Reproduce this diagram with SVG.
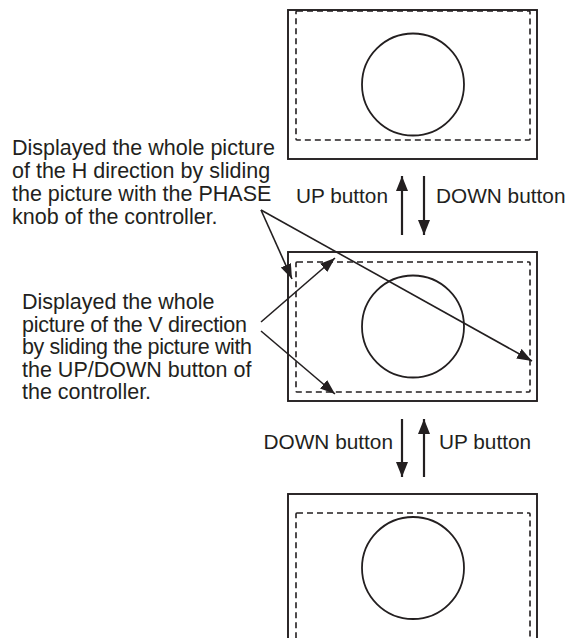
<svg xmlns="http://www.w3.org/2000/svg" width="568" height="638" viewBox="0 0 568 638">
<style>
.frame{fill:none;stroke:#231f20;stroke-width:1.9}
.dash{fill:none;stroke:#231f20;stroke-width:1.6;stroke-dasharray:6 4}
.circ{fill:none;stroke:#231f20;stroke-width:1.8}
.conn{fill:none;stroke:#231f20;stroke-width:1.6}
.varr{fill:none;stroke:#231f20;stroke-width:2.2}
text{font-family:"Liberation Sans",Arial,sans-serif;font-size:21.5px;fill:#231f20}
.btn{font-size:20.8px}
</style>
<defs>
<marker id="ah" markerUnits="userSpaceOnUse" markerWidth="16" markerHeight="12" refX="15" refY="5.5" orient="auto">
<path d="M0,0 L15,5.5 L0,11 z" fill="#231f20"/>
</marker>
<marker id="vh" markerUnits="userSpaceOnUse" markerWidth="16" markerHeight="13" refX="15" refY="6" orient="auto">
<path d="M0,0 L15,6 L0,12 z" fill="#231f20"/>
</marker>
</defs>
<rect width="568" height="638" fill="#fff"/>
<g id="screen-top">
<rect class="frame" x="288" y="10" width="249" height="149"/>
<rect class="dash" x="296" y="11" width="234" height="129" rx="1"/>
<circle class="circ" cx="413" cy="84.5" r="51"/>
</g>
<g id="screen-middle">
<rect class="frame" x="288" y="252" width="249" height="149"/>
<rect class="dash" x="296" y="262" width="234" height="130" rx="1"/>
<circle class="circ" cx="413" cy="326.5" r="51"/>
</g>
<g id="screen-bottom">
<rect class="frame" x="288" y="494" width="249" height="160"/>
<rect class="dash" x="296" y="513" width="234" height="140" rx="1"/>
<circle class="circ" cx="413" cy="568" r="51"/>
</g>
<g id="label-h">
<text x="12" y="155">Displayed the whole picture</text>
<text x="12" y="178">of the H direction by sliding</text>
<text x="12" y="201">the picture with the PHASE</text>
<text x="12" y="223.5">knob of the controller.</text>
</g>
<g id="label-v">
<text x="22" y="309">Displayed the whole</text>
<text x="22" y="331.5" textLength="225" lengthAdjust="spacing">picture of the V direction</text>
<text x="22" y="354" textLength="230" lengthAdjust="spacing">by sliding the picture with</text>
<text x="22" y="376.5">the UP/DOWN button of</text>
<text x="22" y="399">the controller.</text>
</g>
<g id="button-labels">
<text class="btn" x="388" y="203" text-anchor="end">UP button</text>
<text class="btn" x="436" y="203">DOWN button</text>
<text class="btn" x="393" y="449" text-anchor="end">DOWN button</text>
<text class="btn" x="439" y="449">UP button</text>
</g>
<g id="connectors">
<line class="conn" x1="261" y1="210" x2="292" y2="279" marker-end="url(#ah)"/>
<line class="conn" x1="261" y1="210" x2="532" y2="361" marker-end="url(#ah)"/>
<line class="conn" x1="261" y1="322" x2="335" y2="258" marker-end="url(#ah)"/>
<line class="conn" x1="261" y1="331" x2="335" y2="394" marker-end="url(#ah)"/>
<line class="varr" x1="402" y1="235" x2="402" y2="176" marker-end="url(#vh)"/>
<line class="varr" x1="424" y1="176" x2="424" y2="235" marker-end="url(#vh)"/>
<line class="varr" x1="402" y1="419" x2="402" y2="477" marker-end="url(#vh)"/>
<line class="varr" x1="424" y1="477" x2="424" y2="419" marker-end="url(#vh)"/>
</g>
</svg>
